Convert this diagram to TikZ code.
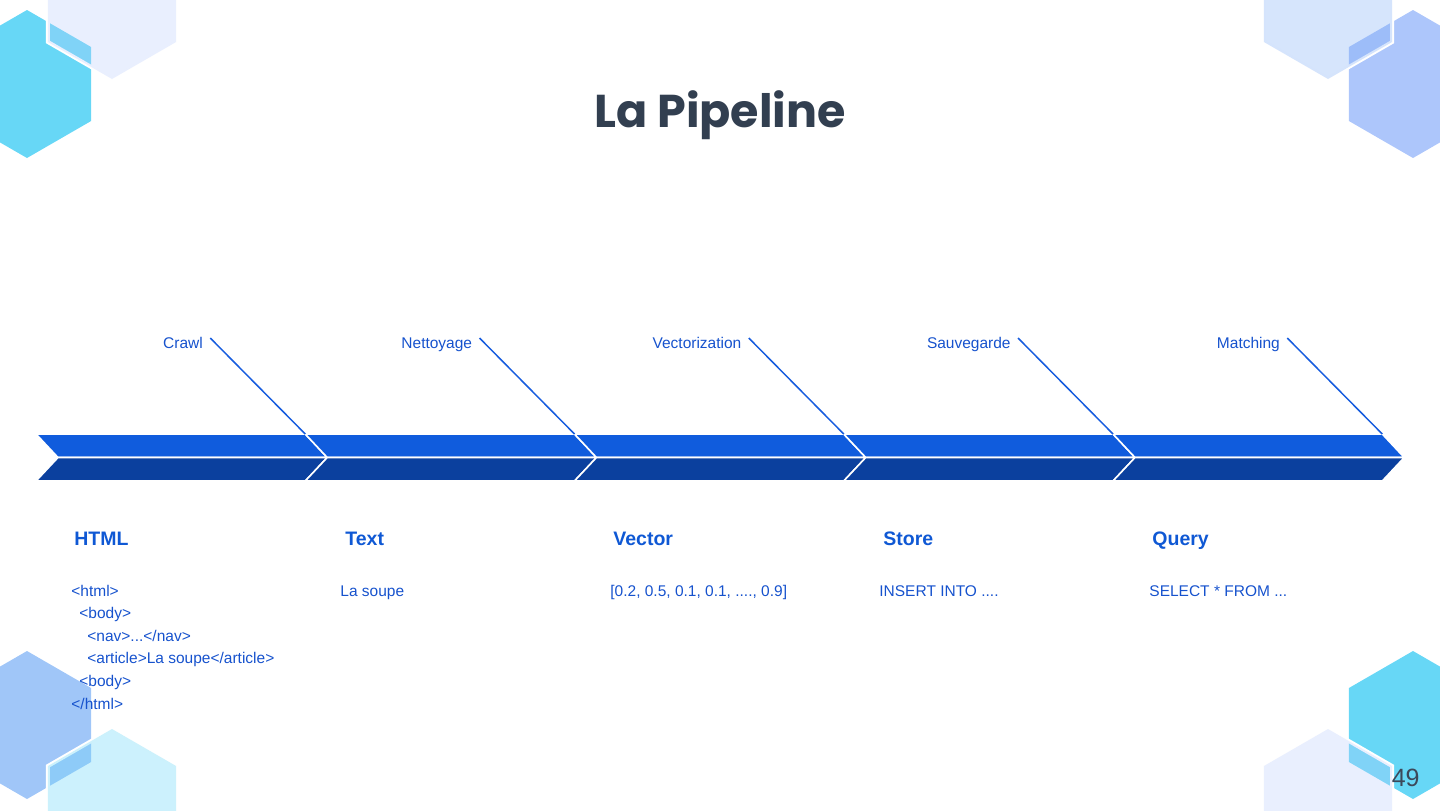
\documentclass[tikz,border=0pt]{standalone}
\usepackage{fontspec}
\setmainfont{Liberation Sans}
\newfontfamily\titlefont{Poppins}
\usetikzlibrary{calc}
\definecolor{cyanhex}{RGB}{103,215,246}
\definecolor{perihex}{RGB}{173,198,251}
\definecolor{skyhex}{RGB}{160,198,248}
\definecolor{tintlav}{RGB}{185,204,252}
\definecolor{tintblue}{RGB}{126,173,246}
\definecolor{tintcyan}{RGB}{110,215,248}
\definecolor{bandtop}{RGB}{16,92,221}
\definecolor{bandbot}{RGB}{11,64,158}
\definecolor{txtblue}{RGB}{22,82,205}
\definecolor{hdrblue}{RGB}{15,88,212}
\definecolor{lineblue}{RGB}{22,92,222}
\definecolor{titlecol}{RGB}{50,63,80}
\definecolor{pagecol}{RGB}{60,72,90}
\newcommand\hexpath[3]{(#1,#2-#3) -- (#1+0.8660*#3,#2-0.5*#3) -- (#1+0.8660*#3,#2+0.5*#3) -- (#1,#2+#3) -- (#1-0.8660*#3,#2+0.5*#3) -- (#1-0.8660*#3,#2-0.5*#3) -- cycle}
\tikzset{
  lbl/.style={text=txtblue, font=\fontsize{7.75}{9}\selectfont, inner sep=0pt, anchor=base east},
  hdr/.style={text=hdrblue, font=\bfseries\fontsize{9.75}{12}\selectfont, inner sep=0pt, anchor=base west},
  codetxt/.style={text=txtblue, font=\fontsize{7.75}{9}\selectfont, inner sep=0pt, anchor=base west},
  leader/.style={draw=lineblue, line width=0.75pt},
  segtop/.style={fill=bandtop, draw=white, line width=0.8pt},
  segbot/.style={fill=bandbot, draw=white, line width=0.8pt},
  hexgap/.style={draw=white, line width=2pt},
}
\begin{document}
\begin{tikzpicture}[x=0.5pt,y=-0.5pt]
\useasboundingbox (0,0) rectangle (1440,810);
\begin{scope}
\clip (0,0) rectangle (1440,810);
% top left
\fill[cyanhex] \hexpath{27}{84}{74};
\draw[hexgap] \hexpath{112}{5}{74};
\fill[tintlav, fill opacity=0.31] \hexpath{112}{5}{74};
% top right
\fill[perihex] \hexpath{1413}{84}{74};
\draw[hexgap] \hexpath{1328}{5}{74};
\fill[tintblue, fill opacity=0.32] \hexpath{1328}{5}{74};
% bottom left
\fill[skyhex] \hexpath{27}{725}{74};
\draw[hexgap] \hexpath{112}{803}{74};
\fill[tintcyan, fill opacity=0.35] \hexpath{112}{803}{74};
% bottom right
\fill[cyanhex] \hexpath{1413}{725}{74};
\draw[hexgap] \hexpath{1328}{803}{74};
\fill[tintlav, fill opacity=0.31] \hexpath{1328}{803}{74};
\end{scope}

% title
\node[text=titlecol, font=\titlefont\bfseries\fontsize{23}{28}\selectfont, inner sep=0pt, anchor=base] (title) at (720,127) {La Pipeline};

% chevron band
\foreach \i in {0,...,4}{
  \pgfmathsetmacro\xl{36+269.25*\i}
  \pgfmathsetmacro\xr{\xl+269.25}
  \path[segtop] (\xl,434) -- (\xr,434) -- (\xr+22,457.5) -- (\xl+22,457.5) -- cycle;
  \path[segbot] (\xl+22,457.5) -- (\xr+22,457.5) -- (\xr,481) -- (\xl,481) -- cycle;
  \coordinate (c\i) at (\xr,434);
}

% leader lines and labels
\foreach \i/\name in {0/Crawl,1/Nettoyage,2/Vectorization,3/Sauvegarde,4/Matching}{
  \coordinate (s\i) at ($(c\i)+(-95,-96)$);
  \node[lbl] (l\i) at ($(s\i)+(-7,10)$) {\name};
  \draw[leader] (s\i) -- (c\i);
}

% headers
\node[hdr] (h0) at (74,545) {HTML};
\node[hdr] (h1) at (345,545) {Text};
\node[hdr] (h2) at (613,545) {Vector};
\node[hdr] (h3) at (883,545) {Store};
\node[hdr] (h4) at (1152,545) {Query};

% bodies
\node[codetxt] (b0a) at (71,596) {<html>};
\node[codetxt] (b0b) at (79,618.6) {<body>};
\node[codetxt] (b0c) at (87,641.2) {<nav>...</nav>};
\node[codetxt] (b0d) at (87,663.8) {<article>La soupe</article>};
\node[codetxt] (b0e) at (79,686.4) {<body>};
\node[codetxt] (b0f) at (71,709) {</html>};
\node[codetxt] (b1) at (340,596) {La soupe};
\node[codetxt] (b2) at (610,596) {[0.2, 0.5, 0.1, 0.1, ...., 0.9]};
\node[codetxt] (b3) at (879,596) {INSERT INTO ....};
\node[codetxt] (b4) at (1149,596) {SELECT * FROM ...};

% page number
\node[text=pagecol, font=\fontsize{12.5}{15}\selectfont, inner sep=0pt, anchor=base east] (page) at (1420,786) {49};
\end{tikzpicture}
\end{document}
